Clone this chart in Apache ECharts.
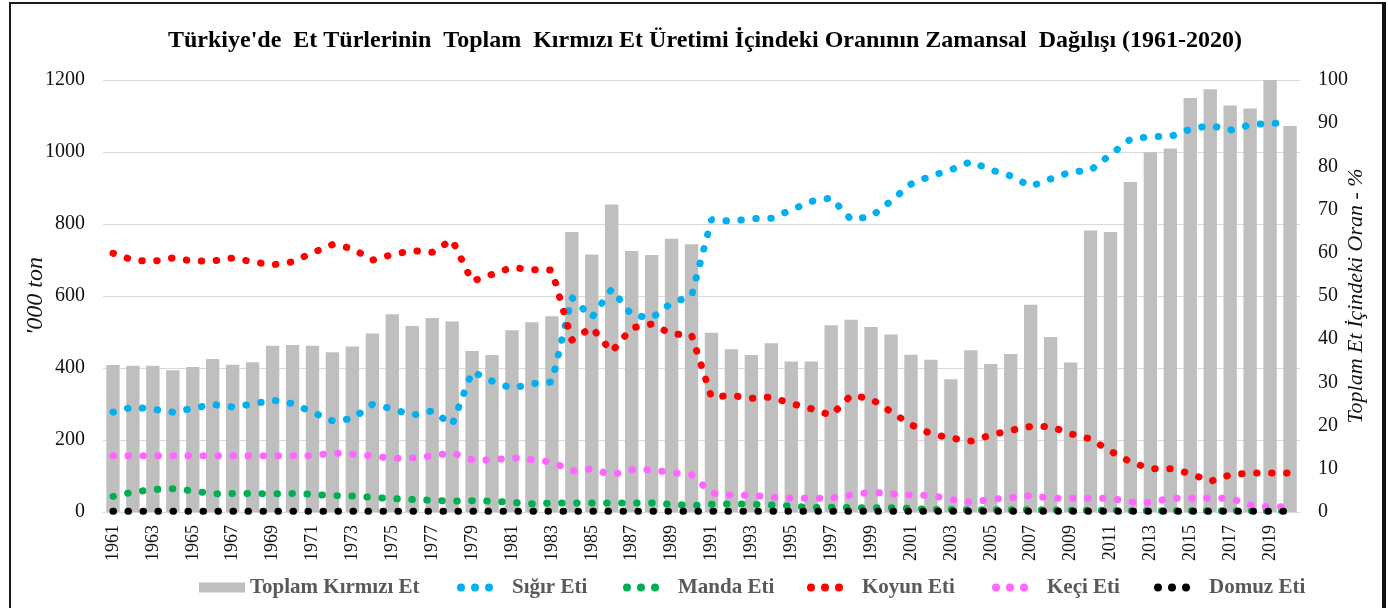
<!DOCTYPE html>
<html><head><meta charset="utf-8">
<script src="https://cdn.jsdelivr.net/npm/echarts@6/dist/echarts.min.js"></script>
<style>
html,body{margin:0;padding:0;background:#fff;overflow:hidden;}
#c{width:1388px;height:608px;position:absolute;left:0;top:0;}
#frame{position:absolute;left:9px;top:2px;width:1377px;height:700px;box-sizing:border-box;border-left:2.5px solid #1a1a1a;border-top:2px solid #1a1a1a;border-right:4px solid #111;pointer-events:none;}
</style></head>
<body>
<div id="c"></div>
<div id="frame"></div>
<script>
const years = ['1961','1962','1963','1964','1965','1966','1967','1968','1969','1970',
  '1971','1972','1973','1974','1975','1976','1977','1978','1979','1980',
  '1981','1982','1983','1984','1985','1986','1987','1988','1989','1990',
  '1991','1992','1993','1994','1995','1996','1997','1998','1999','2000',
  '2001','2002','2003','2004','2005','2006','2007','2008','2009','2010',
  '2011','2012','2013','2014','2015','2016','2017','2018','2019','2020'];

const toplam = [408,406,406,394,403,425,409,416,462,464,
  462,444,460,496,549,517,539,529,447,436,
  505,527,544,778,715,854,725,714,759,744,
  498,452,436,469,418,418,519,534,514,493,
  437,423,369,449,411,439,576,486,415,782,
  778,917,999,1010,1150,1174,1129,1121,1200,1072];

const sigir = [23.1,24.3,23.8,23.1,24.0,24.9,24.3,25.0,25.9,25.1,
  23.1,21.1,21.6,24.9,23.9,22.4,23.4,20.2,32.5,30.3,
  28.6,29.7,30.1,49.7,45.0,51.6,45.6,44.9,48.4,50.0,
  67.7,67.3,67.9,68.0,69.9,71.9,72.7,67.7,68.4,72.0,
  75.9,77.8,79.2,81.1,79.2,77.8,75.4,77.1,78.7,79.1,
  82.7,86.3,86.9,86.9,88.6,89.5,88.4,89.6,90.0,90.0];

const manda = [3.6,4.6,5.2,5.4,4.9,4.2,4.3,4.3,4.2,4.3,
  4.1,3.8,3.7,3.4,3.1,2.9,2.7,2.5,2.6,2.5,
  2.2,1.9,2.1,2.1,2.1,2.1,2.1,2.1,1.8,1.5,
  1.8,1.9,1.8,1.6,1.4,1.0,1.1,1.0,1.0,1.0,
  0.8,0.6,0.6,0.5,0.5,0.5,0.5,0.5,0.4,0.4,
  0.4,0.3,0.3,0.3,0.3,0.3,0.3,0.3,0.3,0.3];

const koyun = [59.9,58.3,58.0,58.8,58.1,58.1,58.8,57.9,57.2,57.9,
  60.0,61.9,61.0,58.3,59.6,60.5,60.1,63.0,53.4,55.0,
  56.6,56.1,56.0,39.8,42.7,37.1,42.6,43.5,41.2,41.0,
  26.6,27.0,26.3,26.6,25.1,23.9,22.4,27.0,26.2,23.2,
  20.2,18.1,17.1,16.4,17.8,18.9,19.8,19.8,18.1,16.9,
  14.1,11.6,10.0,10.0,8.9,7.1,8.6,9.0,9.0,9.0];

const keci = [13.0,13.0,13.0,13.0,13.0,13.0,13.0,13.0,13.0,13.0,
  13.0,13.7,13.4,13.0,12.4,12.5,13.0,13.7,12.1,12.0,
  12.6,12.1,11.6,9.5,10.0,8.6,9.8,9.8,9.1,8.6,
  4.4,3.9,3.9,3.4,3.2,3.2,3.2,3.9,4.6,4.2,
  3.9,3.9,2.9,2.3,2.9,3.3,3.8,3.2,3.2,3.2,
  3.2,2.3,2.2,3.2,3.2,3.2,3.2,1.6,1.2,1.2];

const domuz = [0.2,0.2,0.2,0.2,0.2,0.2,0.2,0.2,0.2,0.2,
  0.2,0.2,0.2,0.2,0.2,0.2,0.2,0.2,0.2,0.2,
  0.2,0.2,0.2,0.2,0.2,0.2,0.2,0.2,0.2,0.2,
  0.2,0.2,0.2,0.2,0.2,0.2,0.2,0.2,0.2,0.2,
  0.2,0.2,0.2,0.2,0.2,0.2,0.2,0.2,0.2,0.2,
  0.2,0.2,0.2,0.2,0.2,0.2,0.2,0.2,0.2,0.2];

const leftTicks = {min: 0, max: 1200, interval: 200};
const rightTicks = {min: 0, max: 100, interval: 10};

const FONT = '"Liberation Serif", "Times New Roman", serif';
const DOTS = 'path://M0,4a4,4 0 1,0 8,0a4,4 0 1,0 -8,0M14,4a4,4 0 1,0 8,0a4,4 0 1,0 -8,0M28,4a4,4 0 1,0 8,0a4,4 0 1,0 -8,0';

function lineSeries(name, data, color) {
  return {
    name: name, type: 'line', yAxisIndex: 1, data: data,
    symbol: 'none', showSymbol: false,
    itemStyle: {color: color},
    lineStyle: {color: color, width: 7, type: [0.5, 14.5], cap: 'round'},
    emphasis: {disabled: true},
    animation: false
  };
}

const legendText = {fontFamily: FONT, fontWeight: 'bold', fontSize: 21, color: '#595959'};
function leg(name, left, icon, w, h, pad) {
  return {
    data: [{name: name, icon: icon}], left: left, top: 572, orient: 'horizontal',
    itemWidth: w, itemHeight: h, itemStyle: {borderWidth: 0},
    textStyle: Object.assign({padding: [0, 0, 0, pad]}, legendText),
    selectedMode: false
  };
}

const chart = echarts.init(document.getElementById('c'));
chart.setOption({
  backgroundColor: 'transparent',
  animation: false,
  title: {
    text: "Türkiye'de  Et Türlerinin  Toplam  Kırmızı Et Üretimi İçindeki Oranının Zamansal  Dağılışı (1961-2020)",
    left: 700, top: 24, textAlign: 'center',
    textStyle: {fontFamily: FONT, fontWeight: 'bold', fontSize: 24, color: '#000'}
  },
  legend: [
    leg('Toplam Kırmızı Et', 194, 'rect', 46, 10, 0),
    leg('Sığır Eti', 452, DOTS, 36, 8, 14),
    leg('Manda Eti', 618, DOTS, 36, 8, 14),
    leg('Koyun Eti', 802, DOTS, 36, 8, 14),
    leg('Keçi Eti', 987, DOTS, 36, 8, 14),
    leg('Domuz Eti', 1149, DOTS, 36, 8, 14)
  ],
  grid: {left: 103, right: 88, top: 80, bottom: 96},
  xAxis: {
    type: 'category', data: years, boundaryGap: true,
    axisLine: {lineStyle: {color: '#d9d9d9', width: 1}},
    axisTick: {show: false},
    axisLabel: {interval: 1, rotate: 90, fontFamily: FONT, fontSize: 18, color: '#111', margin: 13}
  },
  yAxis: [
    {
      type: 'value', min: leftTicks.min, max: leftTicks.max, interval: leftTicks.interval,
      name: "'000 ton", nameLocation: 'middle', nameGap: 55, nameRotate: 90, nameMoveOverlap: false,
      nameTextStyle: {fontFamily: FONT, fontStyle: 'italic', fontSize: 24, color: '#111'},
      axisLine: {show: false}, axisTick: {show: false},
      axisLabel: {fontFamily: FONT, fontSize: 20, color: '#111', margin: 18, formatter: function (v) { return String(v); }},
      splitLine: {lineStyle: {color: '#d9d9d9', width: 1}}
    },
    {
      type: 'value', position: 'right', min: rightTicks.min, max: rightTicks.max, interval: rightTicks.interval,
      name: 'Toplam Et İçindeki Oran - %', nameLocation: 'middle', nameGap: 45, nameRotate: 90, nameMoveOverlap: false,
      nameTextStyle: {fontFamily: FONT, fontStyle: 'italic', fontSize: 22, color: '#111'},
      axisLine: {show: false}, axisTick: {show: false},
      axisLabel: {fontFamily: FONT, fontSize: 20, color: '#111', margin: 18},
      splitLine: {show: false}
    }
  ],
  series: [
    {
      name: 'Toplam Kırmızı Et', type: 'bar', yAxisIndex: 0, data: toplam,
      barWidth: '67%', itemStyle: {color: '#bfbfbf'}, emphasis: {disabled: true}
    },
    lineSeries('Sığır Eti', sigir, '#00b0f0'),
    lineSeries('Manda Eti', manda, '#00b050'),
    lineSeries('Koyun Eti', koyun, '#ff0000'),
    lineSeries('Keçi Eti', keci, '#ff66ff'),
    lineSeries('Domuz Eti', domuz, '#000000')
  ]
});
</script>
</body></html>
